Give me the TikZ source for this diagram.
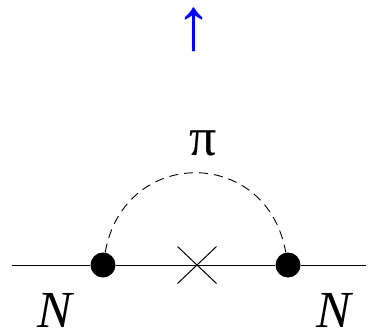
\documentclass[tikz,border=0pt]{standalone}
\usepackage{fontspec}
\setmainfont{Liberation Serif}
\usetikzlibrary{shapes.misc}
\definecolor{ABlue}{RGB}{0,0,255}

\begin{document}
\begin{tikzpicture}[x=1pt, y=1pt,
    vertex/.style={circle, fill=black, inner sep=0pt, minimum size=25pt},
    nucleon/.style={line width=0.9pt},
    pion/.style={line width=0.9pt, dash pattern=on 9pt off 6pt},
    crossmark/.style={cross out, draw, line width=1pt, inner sep=0pt,
        minimum width=38pt, minimum height=36pt},
    label/.style={font=\fontsize{52}{52}\selectfont\itshape, anchor=base, inner sep=0pt}]
\useasboundingbox (0,0) rectangle (374,333);

% fermion line
\coordinate (left-end) at (12,68);
\coordinate (right-end) at (366,68);
\node[vertex] (vl) at (103,68) {};
\node[vertex] (vr) at (288,68) {};
\node[crossmark] (mass) at (197,68) {};
\draw[nucleon] (left-end) -- (vl) -- (vr) -- (right-end);

% pion loop
\draw[pion] (vl.80) .. controls +(80:108) and +(100:108) .. (vr.100);

\node[font=\fontsize{54}{54}\selectfont, anchor=base, inner sep=0pt] (pi) at (203,178) {π};
\node[label] (nl) at (55,6) {N};
\node[label] (nr) at (334,6) {N};

\node[text=ABlue, font=\fontsize{74}{74}\selectfont, inner sep=0pt] (arrow) at (194,303) {↑};
\end{tikzpicture}
\end{document}
